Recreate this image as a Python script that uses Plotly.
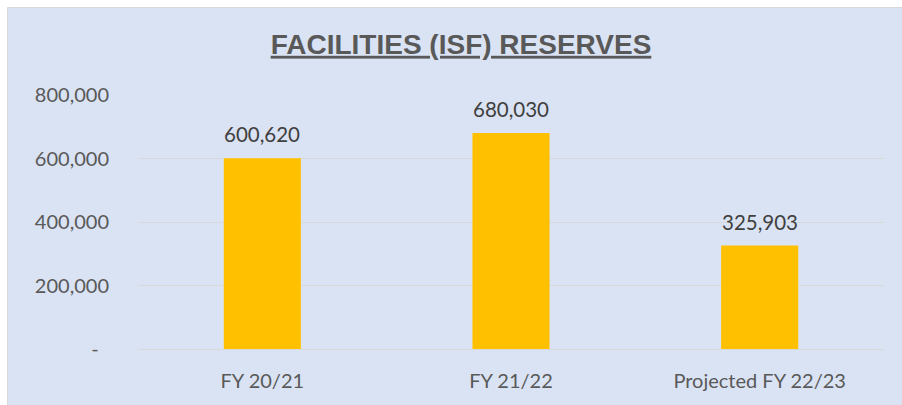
import plotly.graph_objects as go

categories = ["FY 20/21", "FY 21/22", "Projected FY 22/23"]
values = [600620, 680030, 325903]
tick_vals = [0, 200000, 400000, 600000, 800000]
tick_text = ["-\u00a0\u00a0", "200,000", "400,000", "600,000", "800,000"]
title_text = "FACILITIES (ISF) RESERVES"

BG = "#DAE3F3"
BAR = "#FFC000"
GRID = "#D9D9D9"
TXT = "#595959"
LBL = "#404040"
FONT = "Lato, 'Liberation Sans', Arial, sans-serif"

fig = go.Figure()
fig.add_trace(go.Bar(x=categories, y=values, marker=dict(color=BAR, line=dict(width=0)),
                     hoverinfo="skip"))

for c, v in zip(categories, values):
    fig.add_annotation(x=c, y=v, text=f"{v:,}", showarrow=False, yanchor="bottom",
                       yshift=10, font=dict(family=FONT, size=20.5, color=LBL))

L, R, T, B = 138, 18, 95, 56
W, H = 902, 405
pw, ph = W - L - R, H - T - B
fig.add_shape(type="rect", xref="paper", yref="paper", layer="below",
              x0=(7.5 - L) / pw, x1=(W + 10 - L) / pw,
              y0=-(B + 10) / ph, y1=(H - B - 7.5) / ph,
              fillcolor=BG, line=dict(color=GRID, width=1))

fig.update_layout(
    width=W, height=H,
    margin=dict(l=L, r=R, t=T, b=B, pad=0),
    paper_bgcolor="white", plot_bgcolor=BG,
    bargap=0.69,
    showlegend=False,
    title=dict(text=f"<b><u>{title_text}</u></b>", x=461 / W, xanchor="center",
               y=1 - 44 / H, yanchor="middle",
               font=dict(family="'Liberation Sans', Arial, sans-serif", size=28, color=TXT)),
    font=dict(family=FONT, size=20, color=TXT),
)
fig.update_yaxes(range=[0, 800000], tickvals=tick_vals, ticktext=tick_text,
                 showgrid=True, gridcolor=GRID, gridwidth=1, zeroline=False,
                 showline=False, ticks="", ticklabelstandoff=28,
                 tickfont=dict(family=FONT, size=20, color=TXT))
fig.update_xaxes(showgrid=False, showline=True, linecolor=GRID, linewidth=1,
                 ticks="", ticklabelstandoff=14,
                 tickfont=dict(family=FONT, size=20, color=TXT))

fig.write_html("out.html", config={"displayModeBar": False},
               post_script="document.body.style.margin='0';document.body.style.overflow='hidden';")
